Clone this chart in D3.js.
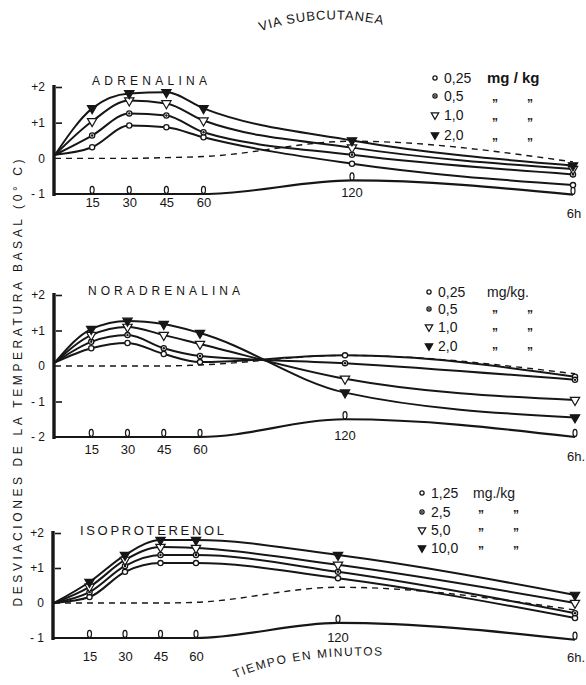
<!DOCTYPE html>
<html>
<head>
<script src="https://cdn.jsdelivr.net/npm/d3@7"></script>
<style>
  html, body { padding: 0; margin: 0; background: #fff; }
  svg text { font-family: "Liberation Sans", "DejaVu Sans", sans-serif; fill: #161616; }
</style>
</head>
<body>
<script>
var width = 586, height = 685;

// sampling times in minutes (360 = 6 h)
var times = [0, 15, 30, 45, 60, 120, 360];
var tickTimes = [15, 30, 45, 60];

// ADRENALINA, mg/kg
var adrenDoses = ["0,25", "0,5", "1,0", "2,0"];
var adren025 = [0.1, 0.31, 0.92, 0.87, 0.59, -0.15, -0.75];
var adren05  = [0.1, 0.64, 1.26, 1.20, 0.73, 0.10, -0.45];
var adren10  = [0.1, 1.04, 1.62, 1.54, 1.06, 0.30, -0.30];
var adren20  = [0.1, 1.40, 1.82, 1.85, 1.40, 0.50, -0.20];
var adrenBase  = [0, 0, 0, 0.02, 0.05, 0.48, -0.10];
var adrenLower = [-1, -1, -1, -1, -1, -0.62, -1.02];

// NORADRENALINA, mg/kg
var noradDoses = ["0,25", "0,5", "1,0", "2,0"];
var norad025 = [0.1, 0.50, 0.65, 0.34, 0.11, 0.30, -0.30];
var norad05  = [0.1, 0.68, 0.87, 0.50, 0.28, 0.08, -0.39];
var norad10  = [0.1, 0.87, 1.10, 0.87, 0.62, -0.36, -0.96];
var norad20  = [0.1, 1.04, 1.27, 1.18, 0.93, -0.75, -1.45];
var noradBase  = [0, 0, 0, 0, 0.03, 0.30, -0.22];
var noradLower = [-2, -2, -2, -2, -2, -1.50, -2.0];

// ISOPROTERENOL, mg/kg
var isoDoses = ["1,25", "2,5", "5,0", "10,0"];
var iso125 = [0, 0.17, 0.89, 1.14, 1.14, 0.71, -0.43];
var iso25  = [0, 0.31, 1.06, 1.37, 1.37, 0.89, -0.29];
var iso50  = [0, 0.46, 1.23, 1.60, 1.57, 1.09, 0.0];
var iso100 = [0, 0.60, 1.37, 1.80, 1.80, 1.37, 0.23];
var isoBase  = [0, 0, 0, 0, 0.02, 0.45, -0.20];
var isoLower = [-1, -1, -1, -1, -1, -0.57, -1.05];

// marker for each dose (open circle, dotted circle, open / filled triangle)
var markerKinds = ["circleOpen", "circleDot", "triOpen", "triFilled"];

var panels = [
  { name: "ADRENALINA", nameX: 92, nameY: 85, nameLen: 115, nameSize: 12,
    unit: "mg / kg", unitBold: true, doses: adrenDoses, series: [adren025, adren05, adren10, adren20],
    base: adrenBase, lower: adrenLower, yMin: -1, yTicks: [2, 1, 0, -1], yMarks: [2, 1],
    top: 87, bottom: 194, xr: [55, 352, 573], last: "6h",
    tickDy: 13, midDy: 17, lastDy: 24,
    legX: 435, legRows: [78, 96, 115, 135], dittoDy: 12, unitX: 487 },
  { name: "NORADRENALINA", nameX: 88, nameY: 295, nameLen: 152, nameSize: 12,
    unit: "mg/kg.", unitBold: false, doses: noradDoses, series: [norad025, norad05, norad10, norad20],
    base: noradBase, lower: noradLower, yMin: -2, yTicks: [2, 1, 0, -1, -2], yMarks: [2, 1, -1],
    top: 295, bottom: 437, xr: [55, 345, 575], last: "6h.",
    tickDy: 17, midDy: 21, lastDy: 24,
    legX: 429, legRows: [292, 309, 327, 346], dittoDy: 10, unitX: 487 },
  { name: "ISOPROTERENOL", nameX: 80, nameY: 535, nameLen: 144, nameSize: 13,
    unit: "mg./kg", unitBold: false, doses: isoDoses, series: [iso125, iso25, iso50, iso100],
    base: isoBase, lower: isoLower, yMin: -1, yTicks: [2, 1, 0, -1], yMarks: [2, 1],
    top: 533, bottom: 638, xr: [54, 338, 575], last: "6h.",
    tickDy: 23, midDy: 19, lastDy: 24,
    legX: 422, legRows: [493, 512, 530, 548], dittoDy: 7, unitX: 473 }
];

var svg = d3.select("body").append("svg")
  .attr("width", width)
  .attr("height", height)
  .style("background-color", "#fff");

var ink = "#161616";

var drawMarker = function(g, kind, cx, cy, s) {
  if (kind.indexOf("circle") === 0) {
    g.append("circle").attr("cx", cx).attr("cy", cy).attr("r", 2.6 * s)
      .attr("fill", "#fff").attr("stroke", ink).attr("stroke-width", 1.3);
    if (kind === "circleDot") {
      g.append("circle").attr("cx", cx).attr("cy", cy).attr("r", 1.2 * s).attr("fill", ink);
    }
  } else {
    g.append("path")
      .attr("d", d3.symbol().type(d3.symbolTriangle).size(38 * s * s)())
      .attr("transform", "translate(" + cx + "," + cy + ") rotate(180)")
      .attr("fill", kind === "triFilled" ? ink : "#fff")
      .attr("stroke", ink).attr("stroke-width", 1.2);
  }
};

var yFmt = function(d) {
  if (d > 0) return "+" + d;
  if (d < 0) return "- " + (-d);
  return "0";
};

panels.forEach(function(p) {
  var g = svg.append("g");
  var x = d3.scaleLinear().domain([0, 120, 360]).range(p.xr);
  var y = d3.scaleLinear().domain([p.yMin, 2]).range([p.bottom, p.top]);

  var line = d3.line()
    .x(function(d, i) { return x(times[i]); })
    .y(function(d) { return y(d); })
    .curve(d3.curveMonotoneX);

  // y axis: heavy vertical rule, labels on the left, small marks on the right
  g.append("line")
    .attr("x1", x(0) - 1).attr("x2", x(0) - 1)
    .attr("y1", y(2) - 2).attr("y2", y(p.yMin) + 2)
    .attr("stroke", ink).attr("stroke-width", 3.4);

  g.append("g")
    .attr("transform", "translate(" + (x(0) - 3) + ",0)")
    .call(d3.axisLeft(y).tickValues(p.yTicks).tickSize(0).tickPadding(7).tickFormat(yFmt))
    .call(function(a) {
      a.select(".domain").remove();
      a.selectAll("text").style("font-size", "12px").attr("fill", ink);
    });

  g.append("g")
    .attr("transform", "translate(" + (x(0) + 1) + ",0)")
    .call(d3.axisRight(y).tickValues(p.yMarks).tickSize(6).tickFormat(""))
    .call(function(a) {
      a.select(".domain").remove();
      a.selectAll("line").attr("stroke", ink).attr("stroke-width", 1.6);
    });

  // dashed reference line
  g.append("path").datum(p.base)
    .attr("d", line)
    .attr("fill", "none").attr("stroke", ink)
    .attr("stroke-width", 1.4).attr("stroke-dasharray", "6,5");

  // lower reference curve with its sampling marks
  g.append("path").datum(p.lower)
    .attr("d", line)
    .attr("fill", "none").attr("stroke", ink).attr("stroke-width", 2.2);

  p.lower.forEach(function(v, i) {
    if (i === 0) return;
    g.append("ellipse")
      .attr("cx", x(times[i])).attr("cy", y(v) - 4)
      .attr("rx", 2).attr("ry", 3.6)
      .attr("fill", "#fff").attr("stroke", ink).attr("stroke-width", 1.2);
  });

  // dose series
  p.series.forEach(function(vals) {
    g.append("path").datum(vals)
      .attr("d", line)
      .attr("fill", "none").attr("stroke", ink).attr("stroke-width", 2);
  });
  p.series.forEach(function(vals, k) {
    vals.forEach(function(v, i) {
      if (i === 0) return;
      drawMarker(g, markerKinds[k], x(times[i]), y(v), 1);
    });
  });

  // x labels
  g.append("g")
    .attr("transform", "translate(0," + y(p.yMin) + ")")
    .call(d3.axisBottom(x).tickValues(tickTimes).tickSize(0).tickPadding(0).tickFormat(d3.format("d")))
    .call(function(a) {
      a.select(".domain").remove();
      a.selectAll("text").attr("dy", null).attr("y", p.tickDy)
        .style("font-size", "13px").attr("fill", ink);
    });

  g.append("text")
    .attr("x", x(120)).attr("y", y(p.lower[5]) + p.midDy)
    .attr("text-anchor", "middle").style("font-size", "13px")
    .text("120");

  g.append("text")
    .attr("x", x(360) + 1).attr("y", y(p.yMin) + p.lastDy)
    .attr("text-anchor", "middle").style("font-size", "13px")
    .text(p.last);

  // panel name
  g.append("text")
    .attr("x", p.nameX).attr("y", p.nameY)
    .attr("textLength", p.nameLen).attr("lengthAdjust", "spacing")
    .style("font-size", p.nameSize + "px")
    .text(p.name);

  // legend
  p.doses.forEach(function(d, k) {
    var cy = p.legRows[k];
    drawMarker(g, markerKinds[k], p.legX, cy, 0.8);
    g.append("text")
      .attr("x", p.legX + 9).attr("y", cy + 5)
      .style("font-size", "14px")
      .text(d);
    if (k === 0) {
      g.append("text")
        .attr("x", p.unitX).attr("y", cy + 5)
        .style("font-size", p.unitBold ? "15px" : "14px")
        .style("font-weight", p.unitBold ? "bold" : "normal")
        .text(p.unit);
    } else {
      [p.unitX + 5, p.unitX + 40].forEach(function(dx) {
        g.append("text")
          .attr("x", dx).attr("y", cy + p.dittoDy)
          .style("font-size", "12px").style("font-weight", "bold")
          .text("\u201D");
      });
    }
  });
});

// arched title and axis captions
var defs = svg.append("defs");
defs.append("path").attr("id", "titleArc").attr("d", "M 255,33 Q 322,10 388,26");
defs.append("path").attr("id", "xArc").attr("d", "M 226,682 Q 292,652 392,656");

svg.append("text")
  .style("font-size", "13px")
  .append("textPath").attr("href", "#titleArc")
  .attr("startOffset", "50%").attr("text-anchor", "middle")
  .attr("textLength", 124).attr("lengthAdjust", "spacing")
  .text("VIA SUBCUTANEA");

svg.append("text")
  .style("font-size", "12px")
  .append("textPath").attr("href", "#xArc")
  .attr("startOffset", "50%").attr("text-anchor", "middle")
  .attr("textLength", 150).attr("lengthAdjust", "spacing")
  .text("TIEMPO EN MINUTOS");

svg.append("text")
  .attr("transform", "translate(22,383) rotate(-90)")
  .attr("text-anchor", "middle")
  .attr("textLength", 447).attr("lengthAdjust", "spacing")
  .style("font-size", "12px")
  .text("DESVIACIONES DE LA TEMPERATURA BASAL (0\u00B0 C)");
</script>
</body>
</html>
